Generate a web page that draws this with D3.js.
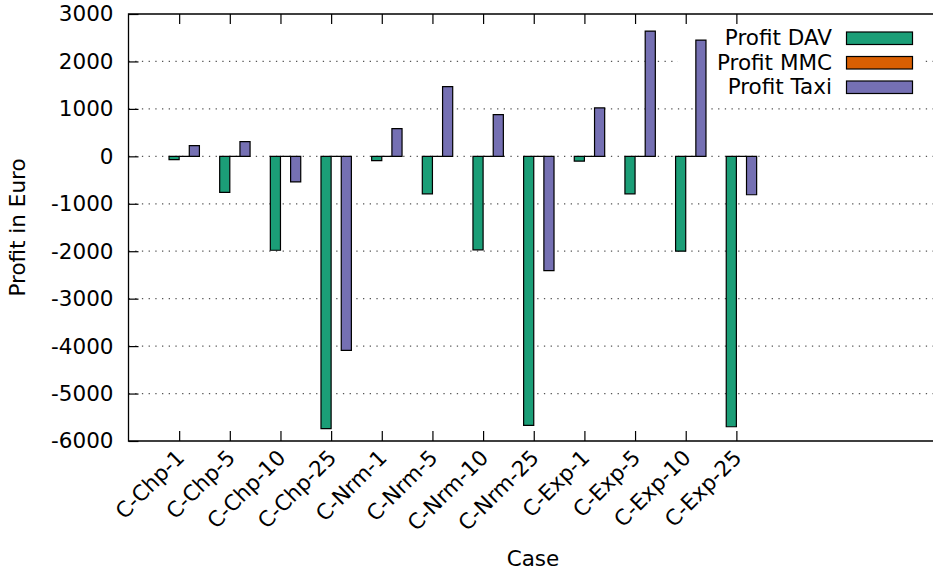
<!DOCTYPE html>
<html>
<head>
<meta charset="utf-8">
<script src="https://cdn.jsdelivr.net/npm/d3@7"></script>
<style>
  body { margin: 0; background: #fff; }
  text { font-family: "DejaVu Sans", sans-serif; font-size: 21.5px; fill: #000; }
  .axis path { display: none; }
  .axis line { stroke: #000; stroke-width: 1.2; }
</style>
</head>
<body>
<div id="chart"></div>
<script>
// cases on the x axis
var cases = ["C-Chp-1", "C-Chp-5", "C-Chp-10", "C-Chp-25",
             "C-Nrm-1", "C-Nrm-5", "C-Nrm-10", "C-Nrm-25",
             "C-Exp-1", "C-Exp-5", "C-Exp-10", "C-Exp-25"];

// profits in euro
var profitDAV  = [-70, -760, -1980, -5740, -90, -790, -1970, -5670, -100, -790, -2000, -5700];
var profitMMC  = [0, 0, 0, 0, 0, 0, 0, 0, 0, 0, 0, 0];
var profitTaxi = [225, 310, -540, -4090, 585, 1470, 880, -2410, 1020, 2640, 2450, -810];

var seriesNames = ["Profit DAV", "Profit MMC", "Profit Taxi"];
var seriesColors = ["#1b9e77", "#d95f02", "#7570b3"];

var yTicks = [-6000, -5000, -4000, -3000, -2000, -1000, 0, 1000, 2000, 3000];

var width = 933,
    height = 570;
var margin = {top: 14, right: -6, bottom: 129, left: 128.5};

var svg = d3.select("#chart").append("svg")
  .attr("width", width)
  .attr("height", height);

// x range runs from -1 to 15, the right part gets clipped by the canvas
var xScale = d3.scaleLinear()
  .domain([-1, 15])
  .range([margin.left, width - margin.right]);

var yScale = d3.scaleLinear()
  .domain([-6000, 3000])
  .range([height - margin.bottom, margin.top]);

var barW = 0.2;

// grid
svg.append("g")
  .selectAll("line")
  .data(yTicks.slice(1, -1))
  .enter().append("line")
  .attr("x1", xScale(-1))
  .attr("x2", xScale(15))
  .attr("y1", d => yScale(d))
  .attr("y2", d => yScale(d))
  .attr("stroke", "#555")
  .attr("stroke-width", 1.2)
  .attr("stroke-dasharray", "1.3,5.4");

// legend background sits over the grid, under the bars
var legend = svg.append("g");
legend.append("rect")
  .attr("x", 678).attr("y", 24)
  .attr("width", 244).attr("height", 76)
  .attr("fill", "#fff");

// bars, one group per series
var series = [profitDAV, profitMMC, profitTaxi];
series.forEach(function(vals, s) {
  svg.append("g")
    .selectAll("path")
    .data(vals)
    .enter().append("path")
    .attr("d", function(d, i) {
      var x0 = xScale(i + (s - 1) * barW),
          x1 = xScale(i + s * barW),
          y0 = yScale(0),
          y1 = yScale(d);
      return "M" + x0 + "," + y0 + "H" + x1 + "V" + y1 + "H" + x0 + "Z";
    })
    .attr("fill", seriesColors[s])
    .attr("stroke", "#000")
    .attr("stroke-width", 1.2);
});

var legendItems = svg.append("g");
seriesNames.forEach(function(name, s) {
  var yy = 38 + s * 24.5;
  legendItems.append("text")
    .attr("x", 832)
    .attr("y", yy + 7)
    .attr("text-anchor", "end")
    .text(name);
  legendItems.append("rect")
    .attr("x", 846.5)
    .attr("y", yy - 6)
    .attr("width", 66)
    .attr("height", 12.5)
    .attr("fill", seriesColors[s])
    .attr("stroke", "#000")
    .attr("stroke-width", 1.2);
});

// axes (ticks pointing inwards, mirrored on top)
var yAxisCall = d3.axisLeft(yScale)
  .tickValues(yTicks)
  .tickSize(-10)
  .tickPadding(15)
  .tickFormat(d => String(d));  // plain hyphen minus like gnuplot

svg.append("g")
  .attr("class", "axis y-axis")
  .attr("transform", "translate(" + margin.left + ",0)")
  .call(yAxisCall)
  .attr("font-family", null)
  .attr("font-size", null);

var xAxisCall = d3.axisBottom(xScale)
  .tickValues(d3.range(cases.length))
  .tickSize(-10)
  .tickPadding(0)
  .tickFormat(i => cases[i]);

svg.append("g")
  .attr("class", "axis x-axis")
  .attr("transform", "translate(0," + yScale(-6000) + ")")
  .call(xAxisCall)
  .attr("font-family", null)
  .attr("font-size", null)
  .selectAll("text")
  .style("text-anchor", "end")
  .attr("dy", null)
  .attr("transform", "translate(6,18) rotate(-45)");

svg.append("g")
  .attr("class", "axis x-top")
  .attr("transform", "translate(0," + yScale(3000) + ")")
  .call(d3.axisTop(xScale).tickValues(d3.range(cases.length)).tickSize(-10).tickFormat(""));

// border: left, top, bottom
svg.append("path")
  .attr("d", "M" + xScale(15) + "," + yScale(3000) + "H" + margin.left +
             "V" + yScale(-6000) + "H" + xScale(15))
  .attr("fill", "none")
  .attr("stroke", "#000")
  .attr("stroke-width", 1.3);

// axis titles
svg.append("text")
  .attr("text-anchor", "middle")
  .attr("transform", "translate(25," + (yScale(-1500)) + ") rotate(-90)")
  .text("Profit in Euro");

svg.append("text")
  .attr("text-anchor", "middle")
  .attr("x", 533)
  .attr("y", 566)
  .text("Case");
</script>
</body>
</html>
